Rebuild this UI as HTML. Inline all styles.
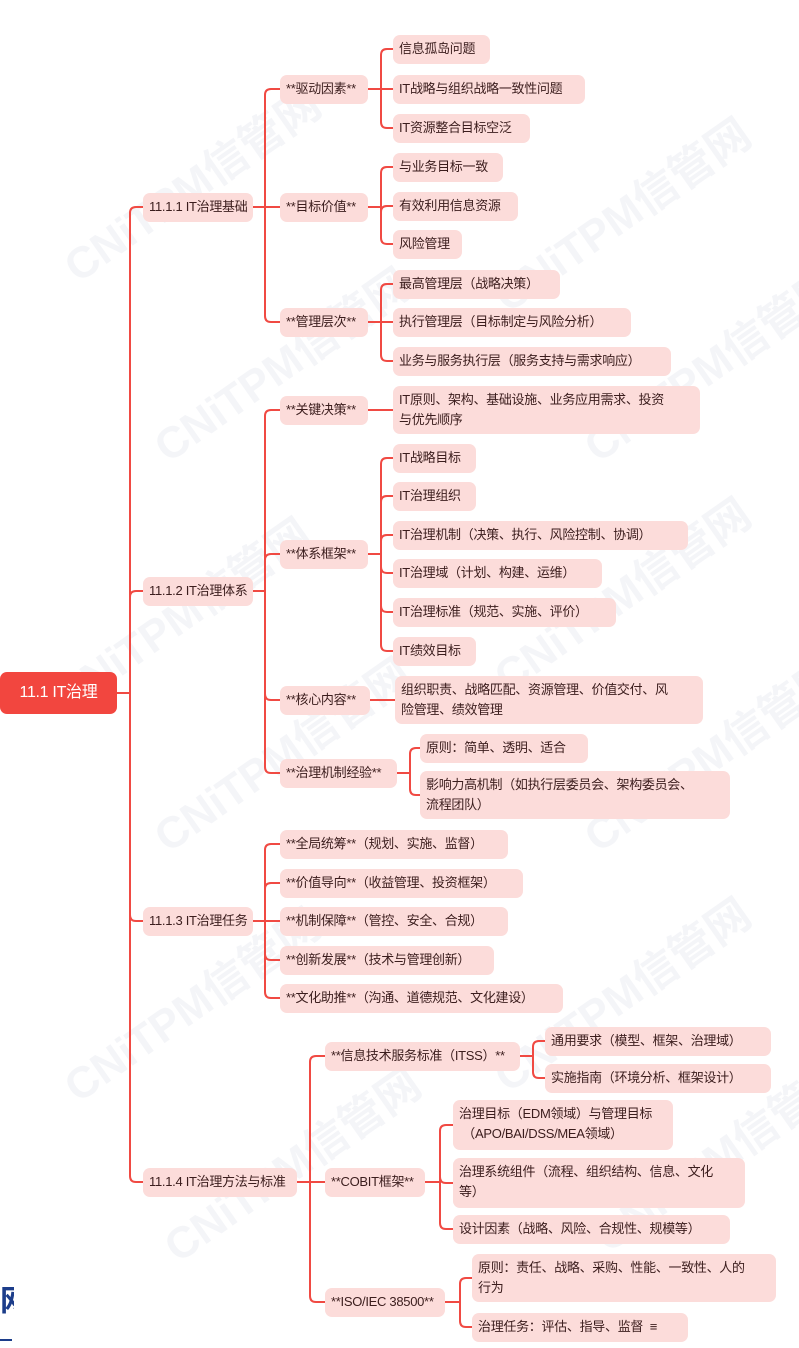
<!DOCTYPE html>
<html><head><meta charset="utf-8">
<style>
html,body{margin:0;padding:0;background:#fff;}
body{width:799px;height:1348px;position:relative;overflow:hidden;font-family:"Liberation Sans","Noto Sans CJK SC",sans-serif;}
.n{position:absolute;background:#fcdcda;border-radius:7px;color:#3b1d1d;font-size:13px;line-height:20px;box-sizing:border-box;padding:4px 6px;white-space:nowrap;letter-spacing:-0.3px;overflow:hidden;}
.r{position:absolute;left:0;top:672px;width:117px;height:42px;background:#f2463f;border-radius:7px;color:#fff;font-size:16px;line-height:42px;text-align:center;letter-spacing:-0.3px;}
svg{position:absolute;left:0;top:0;}
.wm{position:absolute;color:rgba(205,210,225,0.22);font-size:44px;font-weight:bold;transform:rotate(-35deg);white-space:nowrap;}
</style></head><body>
<div class="wm" style="left:40px;top:150px">CNiTPM信管网</div>
<div class="wm" style="left:470px;top:180px">CNiTPM信管网</div>
<div class="wm" style="left:130px;top:330px">CNiTPM信管网</div>
<div class="wm" style="left:560px;top:330px">CNiTPM信管网</div>
<div class="wm" style="left:30px;top:580px">CNiTPM信管网</div>
<div class="wm" style="left:470px;top:560px">CNiTPM信管网</div>
<div class="wm" style="left:130px;top:720px">CNiTPM信管网</div>
<div class="wm" style="left:560px;top:720px">CNiTPM信管网</div>
<div class="wm" style="left:40px;top:970px">CNiTPM信管网</div>
<div class="wm" style="left:470px;top:960px">CNiTPM信管网</div>
<div class="wm" style="left:140px;top:1130px">CNiTPM信管网</div>
<div class="wm" style="left:570px;top:1120px">CNiTPM信管网</div>
<svg id="s" width="799" height="1348"></svg>
<div class="r">11.1 IT治理</div>
<div id="c"></div>
<div style="position:absolute;left:0;top:1284px;font-size:30px;font-weight:bold;color:#1c3d8a;line-height:36px;width:14px;overflow:hidden">网</div>
<div style="position:absolute;left:0;top:1339px;width:12px;height:2px;background:#1c3d8a"></div>
<script>
var N=[];
function n(x,cy,w,t,h){h=h||29;N.push([x,cy,w,t,h]);return {x:x,cy:cy,w:w,h:h};}
var paths=[];
function link(p,sx,kids){
 kids.forEach(function(k){
  var r=6,d;
  if(Math.abs(k.cy-p.cy)<1){d="M"+(p.x+p.w)+","+p.cy+" H"+k.x;}
  else{var s=k.cy>p.cy?1:-1;d="M"+(p.x+p.w)+","+p.cy+" H"+sx+" V"+(k.cy-s*r)+" Q"+sx+","+k.cy+" "+(sx+r)+","+k.cy+" H"+k.x;}
  paths.push(d);
 });
}
var root={x:0,cy:693,w:117};
var a=n(143,207,110,"11.1.1 IT治理基础"),b=n(143,591,110,"11.1.2 IT治理体系"),c=n(143,921,110,"11.1.3 IT治理任务"),d=n(143,1182,154,"11.1.4 IT治理方法与标准");
link(root,130,[a,b,c,d]);
var a1=n(280,89,88,"**驱动因素**"),a2=n(280,207,88,"**目标价值**"),a3=n(280,322,88,"**管理层次**");
link(a,265,[a1,a2,a3]);
link(a1,381,[n(393,49,97,"信息孤岛问题"),n(393,89,192,"IT战略与组织战略一致性问题"),n(393,128,137,"IT资源整合目标空泛")]);
link(a2,381,[n(393,167,110,"与业务目标一致"),n(393,206,125,"有效利用信息资源"),n(393,244,69,"风险管理")]);
link(a3,381,[n(393,284,167,"最高管理层（战略决策）"),n(393,322,238,"执行管理层（目标制定与风险分析）"),n(393,361,278,"业务与服务执行层（服务支持与需求响应）")]);
var b1=n(280,410,88,"**关键决策**"),b2=n(280,554,88,"**体系框架**"),b3=n(280,700,90,"**核心内容**"),b4=n(280,773,117,"**治理机制经验**");
link(b,265,[b1,b2,b3,b4]);
link(b1,381,[n(393,410,307,"IT原则、架构、基础设施、业务应用需求、投资<br>与优先顺序",48)]);
link(b2,381,[n(393,458,83,"IT战略目标"),n(393,496,83,"IT治理组织"),n(393,535,295,"IT治理机制（决策、执行、风险控制、协调）"),n(393,573,209,"IT治理域（计划、构建、运维）"),n(393,612,223,"IT治理标准（规范、实施、评价）"),n(393,651,83,"IT绩效目标")]);
link(b3,383,[n(395,700,308,"组织职责、战略匹配、资源管理、价值交付、风<br>险管理、绩效管理",48)]);
link(b4,410,[n(420,748,168,"原则：简单、透明、适合"),n(420,795,310,"影响力高机制（如执行层委员会、架构委员会、<br>流程团队）",48)]);
link(c,265,[n(280,844,228,"**全局统筹**（规划、实施、监督）"),n(280,883,243,"**价值导向**（收益管理、投资框架）"),n(280,921,228,"**机制保障**（管控、安全、合规）"),n(280,960,214,"**创新发展**（技术与管理创新）"),n(280,998,283,"**文化助推**（沟通、道德规范、文化建设）")]);
var d1=n(325,1056,195,"**信息技术服务标准（ITSS）**"),d2=n(325,1182,100,"**COBIT框架**"),d3=n(325,1302,120,"**ISO/IEC 38500**");
link(d,310,[d1,d2,d3]);
link(d1,533,[n(545,1041,226,"通用要求（模型、框架、治理域）"),n(545,1078,226,"实施指南（环境分析、框架设计）")]);
link(d2,440,[n(453,1125,220,"治理目标（EDM领域）与管理目标<br>&nbsp;（APO/BAI/DSS/MEA领域）",50),n(453,1183,292,"治理系统组件（流程、组织结构、信息、文化<br>等）",50),n(453,1229,277,"设计因素（战略、风险、合规性、规模等）")]);
link(d3,460,[n(472,1278,304,"原则：责任、战略、采购、性能、一致性、人的<br>行为",48),n(472,1327,216,"治理任务：评估、指导、监督 &nbsp;≡")]);
var s=document.getElementById('s'),h='';
paths.forEach(function(p){h+='<path d="'+p+'" fill="none" stroke="#f04a43" stroke-width="2"/>';});
s.innerHTML=h;
var cc=document.getElementById('c'),o='';
N.forEach(function(q){o+='<div class="n" style="left:'+q[0]+'px;top:'+(q[1]-q[4]/2)+'px;width:'+q[2]+'px;height:'+q[4]+'px">'+q[3]+'</div>';});
cc.innerHTML=o;
</script>
</body></html>
